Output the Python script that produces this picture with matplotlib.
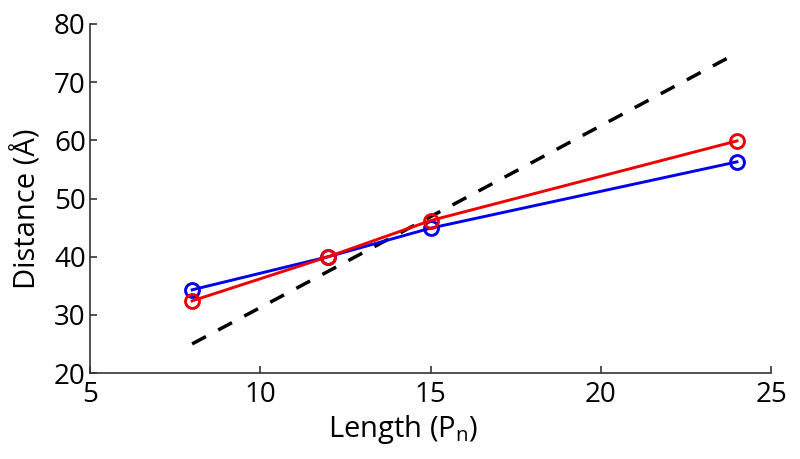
import matplotlib
matplotlib.use("Agg")
from matplotlib import pyplot as plt

plt.rcParams['font.family'] = ['Open Sans', 'DejaVu Sans']

# data
lengths = [8, 12, 15, 24]
blue_dist = [34.3, 40.0, 44.9, 56.3]
red_dist = [32.4, 40.0, 46.2, 59.9]
ref_x = [8, 24]
ref_y = [25, 75]

fig = plt.figure(figsize=(8, 4.59), dpi=100)
ax = fig.add_axes([90 / 800, 1 - 373 / 459, 681 / 800, 349 / 459])

ax.plot(ref_x, ref_y, color='black', lw=2.5, dashes=(4.5, 4))
ax.plot(lengths, blue_dist, color='#0000ee', lw=2.1, marker='o', ms=10,
        mfc='none', mew=2.1)
ax.plot(lengths, red_dist, color='#ee0000', lw=2.1, marker='o', ms=10,
        mfc='none', mew=2.1)

ax.set_xlim(5, 25)
ax.set_ylim(20, 80)
ax.set_xticks([5, 10, 15, 20, 25])
ax.set_yticks([20, 30, 40, 50, 60, 70, 80])

for side in ['top', 'right']:
    ax.spines[side].set_visible(False)
for side in ['left', 'bottom']:
    ax.spines[side].set_linewidth(1.2)
    ax.spines[side].set_color('#333333')

ax.tick_params(axis='both', direction='in', length=5, width=1.2,
               labelsize=20, pad=3, color='#333333')
ax.tick_params(axis='x', pad=6)

ax.set_xlabel('Length (P$_\\mathregular{n}$)', fontsize=21)
ax.set_ylabel('Distance (Å)', fontsize=21)
ax.xaxis.set_label_coords(0.46, -0.115)
ax.yaxis.set_label_coords(-0.07, 0.47)

fig.savefig('out.png', dpi=100)
